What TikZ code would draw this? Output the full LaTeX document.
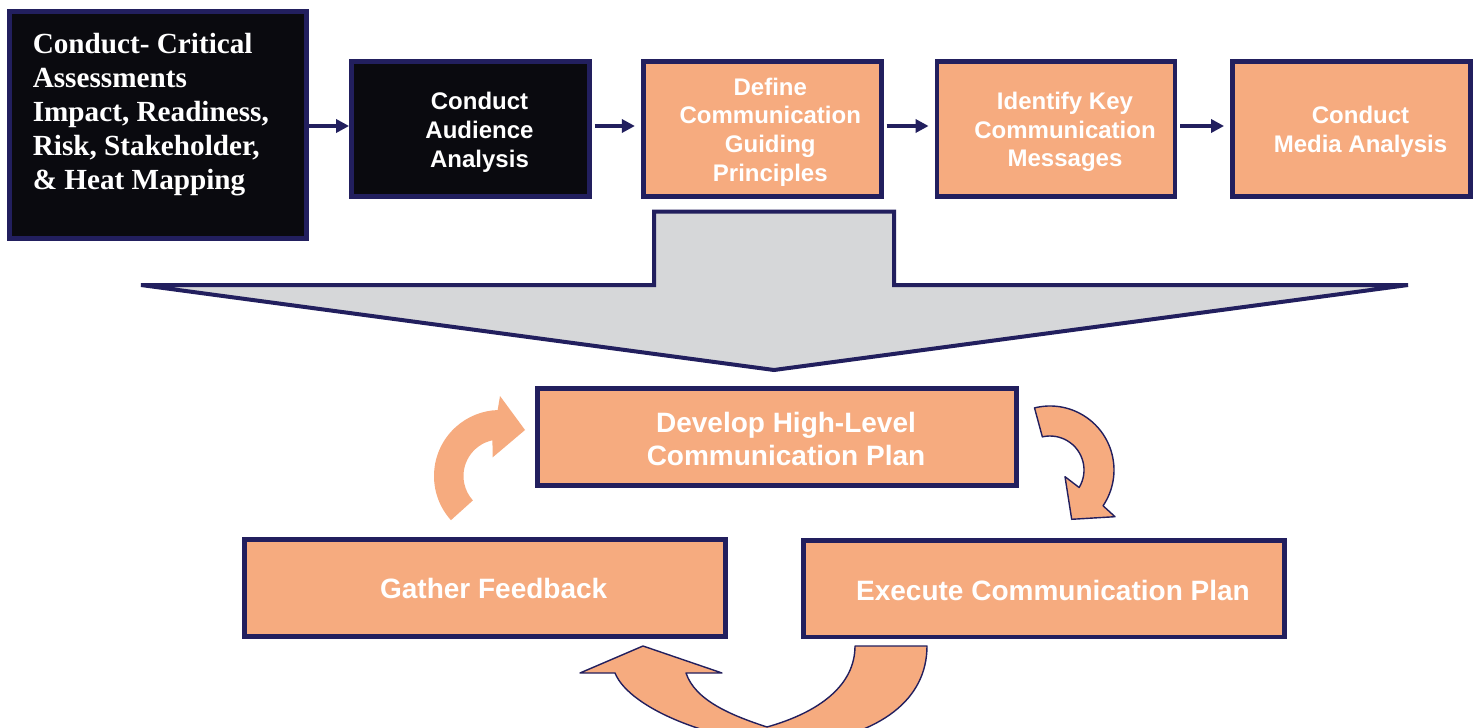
\documentclass[tikz,border=0pt]{standalone}
\usepackage{fontspec}
\setmainfont{Liberation Serif}
\setsansfont{Liberation Sans}
\usetikzlibrary{arrows.meta,calc}
\definecolor{navy}{HTML}{221F5E}
\definecolor{salmon}{HTML}{F6AB7F}
\definecolor{ink}{HTML}{0A0A0F}
\definecolor{silver}{HTML}{D6D7D9}

\begin{document}
\begin{tikzpicture}[x=0.5pt,y=-0.5pt,
  frame/.style={draw=navy, line width=2.4pt, rectangle, inner sep=0pt},
  darkbox/.style={frame, fill=ink},
  warmbox/.style={frame, fill=salmon},
  toprow/.style={minimum width=119pt, minimum height=67.5pt},
  lowrow/.style={minimum width=240.5pt, minimum height=48.4pt},
  sanslabel/.style={text=white, align=center, inner sep=0pt,
    font=\sffamily\bfseries\fontsize{12pt}{14.4pt}\selectfont},
  biglabel/.style={text=white, align=center, inner sep=0pt,
    font=\sffamily\bfseries\fontsize{14pt}{16.5pt}\selectfont},
  flow/.style={draw=navy, line width=2pt, -{Triangle[length=6.5pt,width=6.5pt]}},
  curlarrow/.style={fill=salmon, draw=navy, line width=0.7pt, line join=round}
]
\useasboundingbox (0,0) rectangle (1480,728);
\clip (0,0) rectangle (1480,728);
\fill[white] (0,0) rectangle (1480,728);

% ---------- top row ----------
\node[darkbox, minimum width=148.5pt, minimum height=113.5pt] (assess) at (158,125) {};
\node[anchor=base west, inner sep=0pt, text=white,
      font=\rmfamily\bfseries\fontsize{14.6pt}{17pt}\selectfont]
  (assesstext) at ([shift={(25.3,44.5)}]assess.north west)
  {\parbox[t]{140pt}{\raggedright Conduct- Critical\\Assessments\\Impact, Readiness,\\Risk, Stakeholder,\\\& Heat Mapping}};

\node[darkbox, toprow] (audience) at (470.5,129) {};
\node[sanslabel] (audiencetext) at ([xshift=4.5pt,yshift=-1.5pt]audience.center) {Conduct\\Audience\\Analysis};

\node[warmbox, toprow] (principles) at (762.3,129) {};
\node[sanslabel] (principlestext) at ([xshift=4pt,yshift=-1.5pt]principles.center) {Define\\Communication\\Guiding\\Principles};

\node[warmbox, toprow] (messages) at (1056,129) {};
\node[sanslabel] (messagestext) at ([xshift=4.5pt,yshift=-1.5pt]messages.center) {Identify Key\\Communication\\Messages};

\node[warmbox, toprow] (media) at (1351.5,129) {};
\node[sanslabel] (mediatext) at ([xshift=4.5pt,yshift=-1.5pt]media.center) {Conduct\\Media Analysis};

% arrows along the top row
\coordinate (lane1) at ([yshift=1.5pt]audience.west);
\coordinate (lane2) at ([yshift=1.5pt]principles.west);
\coordinate (lane3) at ([yshift=1.5pt]messages.west);
\coordinate (lane4) at ([yshift=1.5pt]media.west);
\draw[flow] (assess.east |- lane1) -- (lane1);
\draw[flow, shorten <=1.5pt, shorten >=3pt] (audience.east |- lane2) -- (lane2);
\draw[flow, shorten <=1.5pt, shorten >=3pt] (principles.east |- lane3) -- (lane3);
\draw[flow, shorten <=1.5pt, shorten >=3pt] (messages.east |- lane4) -- (lane4);

% ---------- big funnel arrow ----------
\draw[draw=navy, fill=silver, line width=2pt]
  (141,285) -- (654,285) -- (654,211.5) -- (894,211.5) -- (894,285)
  -- (1408,285) -- (774,370) -- cycle;

% ---------- cycle ----------
\node[warmbox, minimum width=239.5pt, minimum height=48.65pt] (plan) at (777,436.9) {};
\node[biglabel] (plantext) at ([xshift=4.5pt,yshift=-0.8pt]plan.center) {Develop High-Level\\Communication Plan};

\node[warmbox, lowrow] (feedback) at (484.7,588.2) {};
\node[biglabel] (feedbacktext) at ([xshift=4.5pt,yshift=-0.3pt]feedback.center) {Gather Feedback};

\node[warmbox, lowrow] (execute) at (1044,588.5) {};
\node[biglabel] (executetext) at ([xshift=4.5pt,yshift=-0.75pt]execute.center) {Execute Communication Plan};

% curved arrow: feedback back into planning
\fill[salmon]
  ([shift={(138:66)}]500,476) arc[start angle=138, end angle=268, radius=66]
  -- (500,396) -- (525,430) -- (492.7,457.3)
  -- ([shift={(258:36.5)}]500,476) arc[start angle=258, end angle=138, radius=36.5]
  -- cycle;

% curved arrow: planning into execution
\filldraw[curlarrow]
  ([shift={(-104:64)}]1050,470) arc[start angle=-104, end angle=34, radius=64]
  -- (1115,516.7) -- (1071.7,519.3) -- (1065,476.7)
  -- ([shift={(31:34)}]1050,470) arc[start angle=31, end angle=-103, radius=34]
  -- cycle;

% curved arrow: execution round to feedback
\filldraw[curlarrow]
  (927,646) -- (855,646)
  .. controls (855,685) and (820,712) .. (767,727)
  .. controls (730,715) and (695,700) .. (686,673)
  -- (722,673) -- (643,646) -- (580,673) -- (615,673)
  .. controls (630,710) and (720,745) .. (800,745)
  .. controls (880,735) and (927,700) .. (927,646)
  -- cycle;
\end{tikzpicture}
\end{document}
